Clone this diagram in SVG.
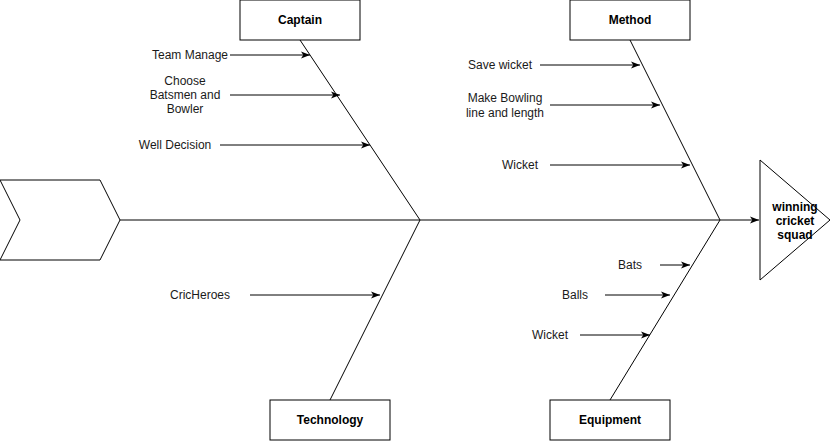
<svg xmlns="http://www.w3.org/2000/svg" width="831" height="441" viewBox="0 0 831 441">
<style>
.shape{fill:#fff;stroke:#000;stroke-width:1}
.ln{fill:none;stroke:#000;stroke-width:1}
.ar{fill:none;stroke:#000;stroke-width:1;marker-end:url(#ah)}
text{font-family:"Liberation Sans",Arial,sans-serif;font-size:12px;fill:#1a1a1a}
.b{font-weight:bold;text-anchor:middle;fill:#000}
.m{text-anchor:middle}
</style>
<defs>
<marker id="ah" viewBox="0 0 10 10" refX="9" refY="5" markerWidth="10" markerHeight="10" markerUnits="userSpaceOnUse" orient="auto">
<path d="M0,1.5 L9,5 L0,8.5 L2.3,5 Z" fill="#000"/>
</marker>
</defs>
<g id="connectors">
<line class="ar" x1="120" y1="220" x2="759" y2="220"/>
<line class="ln" x1="300" y1="40" x2="420" y2="220"/>
<line class="ln" x1="330" y1="400" x2="420" y2="220"/>
<line class="ln" x1="630" y1="40" x2="720" y2="220"/>
<line class="ln" x1="610" y1="400" x2="720" y2="220"/>
<line class="ar" x1="230" y1="55" x2="310" y2="55"/>
<line class="ar" x1="230" y1="95" x2="340" y2="95"/>
<line class="ar" x1="220" y1="145" x2="370" y2="145"/>
<line class="ar" x1="540" y1="65" x2="640" y2="65"/>
<line class="ar" x1="550" y1="105" x2="660" y2="105"/>
<line class="ar" x1="550" y1="165" x2="690" y2="165"/>
<line class="ar" x1="660" y1="265" x2="690" y2="265"/>
<line class="ar" x1="605" y1="295" x2="670" y2="295"/>
<line class="ar" x1="580" y1="335" x2="650" y2="335"/>
<line class="ar" x1="250" y1="295" x2="380" y2="295"/>
</g>
<g id="head">
<polygon class="shape" points="0,180 100,180 120,220 100,260 0,260 20,220"/>
</g>
<g id="captain">
<rect class="shape" x="240" y="0" width="120" height="40"/>
<text class="b" x="300" y="24">Captain</text>
</g>
<g id="method">
<rect class="shape" x="570" y="0" width="120" height="40"/>
<text class="b" x="630" y="24">Method</text>
</g>
<g id="technology">
<rect class="shape" x="270" y="400" width="120" height="40"/>
<text class="b" x="330" y="424">Technology</text>
</g>
<g id="equipment">
<rect class="shape" x="550" y="400" width="120" height="40"/>
<text class="b" x="610" y="424">Equipment</text>
</g>
<g id="result">
<polygon class="shape" points="760,160 830,220 760,280"/>
<text class="b" x="795" y="211">winning</text>
<text class="b" x="795" y="225">cricket</text>
<text class="b" x="795" y="239">squad</text>
</g>
<g id="labels">
<text class="m" x="190" y="59">Team Manage</text>
<text class="m" x="185" y="85">Choose</text>
<text class="m" x="185" y="99">Batsmen and</text>
<text class="m" x="185" y="113">Bowler</text>
<text class="m" x="175" y="149">Well Decision</text>
<text class="m" x="500" y="69">Save wicket</text>
<text class="m" x="505" y="102">Make Bowling</text>
<text class="m" x="505" y="117">line and length</text>
<text class="m" x="520" y="169">Wicket</text>
<text class="m" x="630" y="269">Bats</text>
<text class="m" x="575" y="299">Balls</text>
<text class="m" x="550" y="339">Wicket</text>
<text class="m" x="200" y="299">CricHeroes</text>
</g>
</svg>
